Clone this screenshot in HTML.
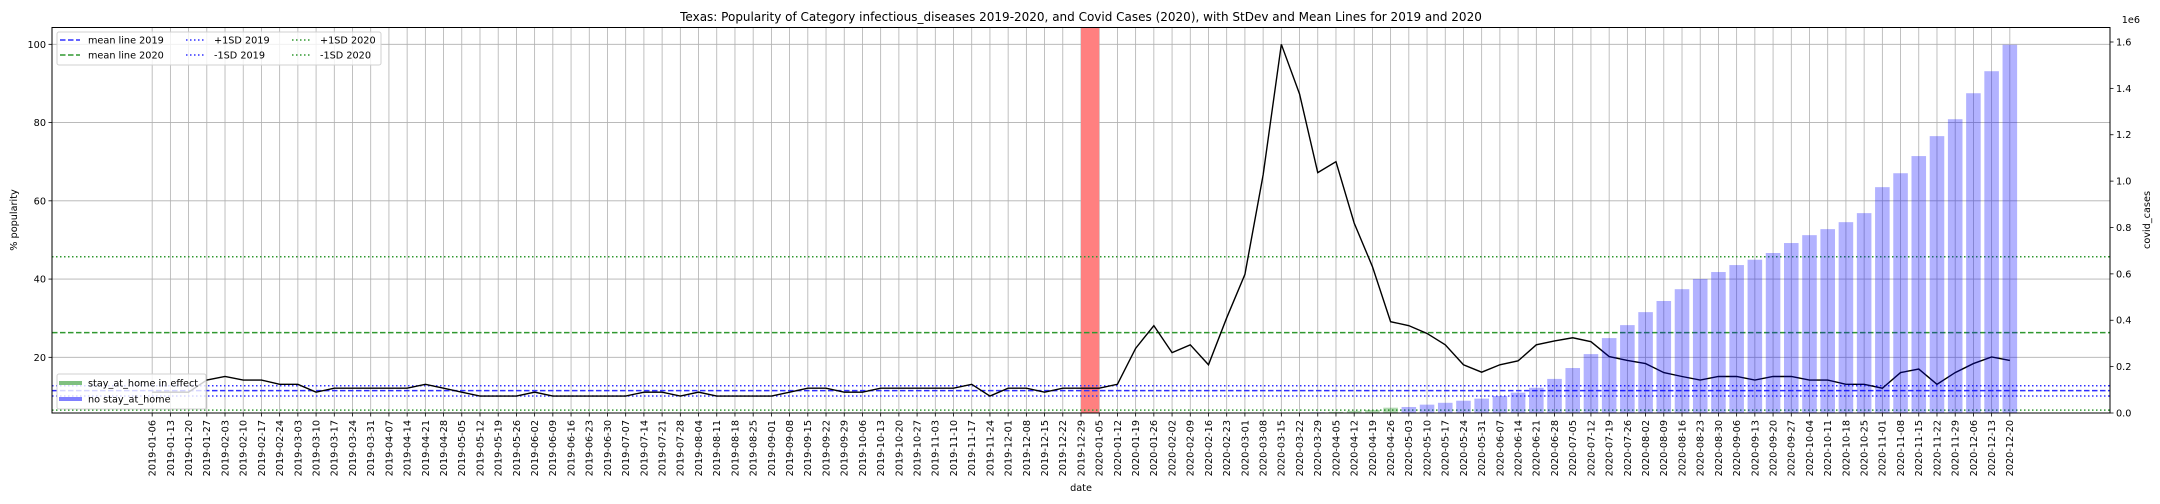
<!DOCTYPE html>
<html><head><meta charset="utf-8">
<style>
html,body{margin:0;padding:0;background:#fff;}
svg{display:block;font-family:"DejaVu Sans","Liberation Sans",sans-serif;}
</style></head>
<body>
<svg id="chart" width="2160" height="504" viewBox="0 0 2160 504" xmlns="http://www.w3.org/2000/svg">
<text x="1081" y="21" font-size="12" text-anchor="middle" fill="#000">Texas: Popularity of Category infectious_diseases 2019-2020, and Covid Cases (2020), with StDev and Mean Lines for 2019 and 2020</text>
<g id="grid"></g>
<g id="spans"></g>
<g id="refs"></g>
<g id="line"></g>
<g id="bars"></g>
<g id="axes"></g>
<text x="1081" y="491" font-size="9.7" text-anchor="middle">date</text>
<text transform="translate(17,220) rotate(-90)" font-size="9.7" text-anchor="middle">% popularity</text>
<text transform="translate(2150,220) rotate(-90)" font-size="9.7" text-anchor="middle">covid_cases</text>
<text x="2140" y="23" font-size="9.7" text-anchor="end">1e6</text>

<g>
<rect x="57" y="32" width="324" height="33" rx="2" fill="#fff" fill-opacity="0.8" stroke="#d0d0d0" stroke-width="1"/>
<g><line x1="60" y1="40" x2="80" y2="40" stroke="#3030ff" stroke-width="1.5" stroke-dasharray="5.5,2.5"/><text x="88" y="43.5" font-size="9.7">mean line 2019</text></g>
<g><line x1="60" y1="55" x2="80" y2="55" stroke="#309830" stroke-width="1.5" stroke-dasharray="5.5,2.5"/><text x="88" y="58.5" font-size="9.7">mean line 2020</text></g>
<g><line x1="186" y1="40" x2="206" y2="40" stroke="#3030ff" stroke-width="1.5" stroke-dasharray="1.5,2.5"/><text x="214" y="43.5" font-size="9.7">+1SD 2019</text></g>
<g><line x1="186" y1="55" x2="206" y2="55" stroke="#3030ff" stroke-width="1.5" stroke-dasharray="1.5,2.5"/><text x="214" y="58.5" font-size="9.7">-1SD 2019</text></g>
<g><line x1="292" y1="40" x2="312" y2="40" stroke="#309830" stroke-width="1.5" stroke-dasharray="1.5,2.5"/><text x="320" y="43.5" font-size="9.7">+1SD 2020</text></g>
<g><line x1="292" y1="55" x2="312" y2="55" stroke="#309830" stroke-width="1.5" stroke-dasharray="1.5,2.5"/><text x="320" y="58.5" font-size="9.7">-1SD 2020</text></g>
</g>
<g>
<rect x="57" y="374" width="149" height="35" rx="2" fill="#fff" fill-opacity="0.8" stroke="#d0d0d0" stroke-width="1"/>
<g><line x1="59" y1="383" x2="82" y2="383" stroke="#80c080" stroke-width="4"/><text x="88" y="386.5" font-size="9.7">stay_at_home in effect</text></g>
<g><line x1="59" y1="399" x2="82" y2="399" stroke="#8080ff" stroke-width="4"/><text x="88" y="402.5" font-size="9.7">no stay_at_home</text></g>
</g>
</svg>
<script>
const popularity = [11.1,11.1,11.1,14.2,15.1,14.2,14.2,13.1,13.1,11.1,12.1,12.1,12.1,12.1,12.1,13.1,12.1,11.1,10.1,10.1,10.1,11.1,10.1,10.1,10.1,10.1,10.1,11.1,11.1,10.1,11.1,10.1,10.1,10.1,10.1,11.1,12.1,12.1,11.1,11.1,12.1,12.1,12.1,12.1,12.1,13.1,10.1,12.1,12.1,11.1,12.1,12.1,
12.1,13.1,22.3,28.1,21.2,23.2,18.1,30.1,41.2,66.6,100,87.3,67.2,70.0,54.3,43.2,29.1,28.1,26.1,23.2,18.1,16.2,18.1,19.1,23.2,24.2,25.0,24.0,20.2,19.2,18.4,16.1,15.1,14.2,15.1,15.1,14.2,15.1,15.1,14.2,14.2,13.1,13.1,12.1,16.1,17.0,13.1,16.1,18.4,20.1,19.2];
const barStart = 64;
const covidCases = [3000,5000,9000,13000,23000,26000,36000,44000,53000,62000,73000,88000,109000,147000,194000,254000,323000,379000,435000,483000,534000,578000,608000,638000,661000,690000,733000,767000,793000,823000,862000,974000,1034000,1108000,1194000,1267000,1379000,1474000,1588000];
const stayAtHome = [false,true,true,true,true,false,false,false,false,false,false,false,false,false,false,false,false,false,false,false,false,false,false,false,false,false,false,false,false,false,false,false,false,false,false,false,false,false,false];
const meanLines = {mean2019:11.5, plus2019:12.75, minus2019:10.1, mean2020:26.3, plus2020:45.7, minus2020:6.5};
const yTicks = [20,40,60,80,100];
const y2Ticks = [0,0.2,0.4,0.6,0.8,1.0,1.2,1.4,1.6];
const redSpan = [51,52];

const NS="http://www.w3.org/2000/svg";
const L=52,R=2110,T=27.5,B=413;
const xMin=-5.5,xMax=107.5,yMin=5.77,yMax=104.3,y2Max=1.6625e6;
const X=i=>L+(i-xMin)/(xMax-xMin)*(R-L);
const Y=v=>B-(v-yMin)/(yMax-yMin)*(B-T);
const Y2=v=>B-v/y2Max*(B-T);
function mk(tag,attrs,parent){const e=document.createElementNS(NS,tag);for(const k in attrs)e.setAttribute(k,attrs[k]);parent.appendChild(e);return e;}
function dateLabel(i){const d=new Date(Date.UTC(2019,0,6+7*i));return d.toISOString().slice(0,10);}

const grid=document.getElementById('grid'),axes=document.getElementById('axes');
for(let i=0;i<popularity.length;i++){
  const g=mk('line',{x1:X(i),x2:X(i),y1:T,y2:B,stroke:'#b0b0b0','stroke-width':0.8},grid);
  
  
  const tk=mk('line',{x1:X(i),x2:X(i),y1:B,y2:B+3.5,stroke:'#000','stroke-width':0.8},axes);
  
  
  const t=mk('text',{transform:`translate(${X(i)+3.4},${B+7}) rotate(-90)`,'font-size':9.7,'text-anchor':'end'},axes);
  t.textContent=dateLabel(i);
  
  
}
yTicks.forEach(v=>{
  const g=mk('line',{x1:L,x2:R,y1:Y(v),y2:Y(v),stroke:'#b0b0b0','stroke-width':0.8},grid);
  
  
  const tk=mk('line',{x1:L-3.5,x2:L,y1:Y(v),y2:Y(v),stroke:'#000','stroke-width':0.8},axes);
  
  
  const t=mk('text',{x:L-6,y:Y(v)+3.5,'font-size':9.7,'text-anchor':'end'},axes);
  t.textContent=v;
  
  
});
y2Ticks.forEach(v=>{
  const tk=mk('line',{x1:R,x2:R+3.5,y1:Y2(v*1e6),y2:Y2(v*1e6),stroke:'#000','stroke-width':0.8},axes);
  
  
  const t=mk('text',{x:R+6,y:Y2(v*1e6)+3.5,'font-size':9.7},axes);
  t.textContent=v.toFixed(1);
  
  
});
const sp=mk('rect',{x:X(redSpan[0]),y:T,width:X(redSpan[1])-X(redSpan[0]),height:B-T,fill:'#ff8080'},document.getElementById('spans'));



const refs=document.getElementById('refs');
const refDefs=[['mean2019','#3030ff','5.5,2.5'],['plus2019','#3030ff','1.5,2.5'],['minus2019','#3030ff','1.5,2.5'],['mean2020','#309830','5.5,2.5'],['plus2020','#309830','1.5,2.5'],['minus2020','#309830','1.5,2.5']];
refDefs.forEach(([k,c,d])=>{
  const l=mk('line',{x1:L,x2:R,y1:Y(meanLines[k]),y2:Y(meanLines[k]),stroke:c,'stroke-width':1.5,'stroke-dasharray':d},refs);
  
  
});
const pts=popularity.map((v,i)=>X(i).toFixed(2)+','+Y(v).toFixed(2)).join(' ');
const pl=mk('polyline',{points:pts,fill:'none',stroke:'#000','stroke-width':1.4},document.getElementById('line'));



const bars=document.getElementById('bars');
covidCases.forEach((v,j)=>{
  const i=barStart+j;
  const r=mk('rect',{x:X(i-0.4),width:X(i+0.4)-X(i-0.4),y:Y2(v),height:B-Y2(v),fill:stayAtHome[j]?'#008000':'#0000ff','fill-opacity':0.3},bars);
  
  
});
const frame=mk('rect',{x:L,y:T,width:R-L,height:B-T,fill:'none',stroke:'#000','stroke-width':1},axes);


</script>
</body></html>
